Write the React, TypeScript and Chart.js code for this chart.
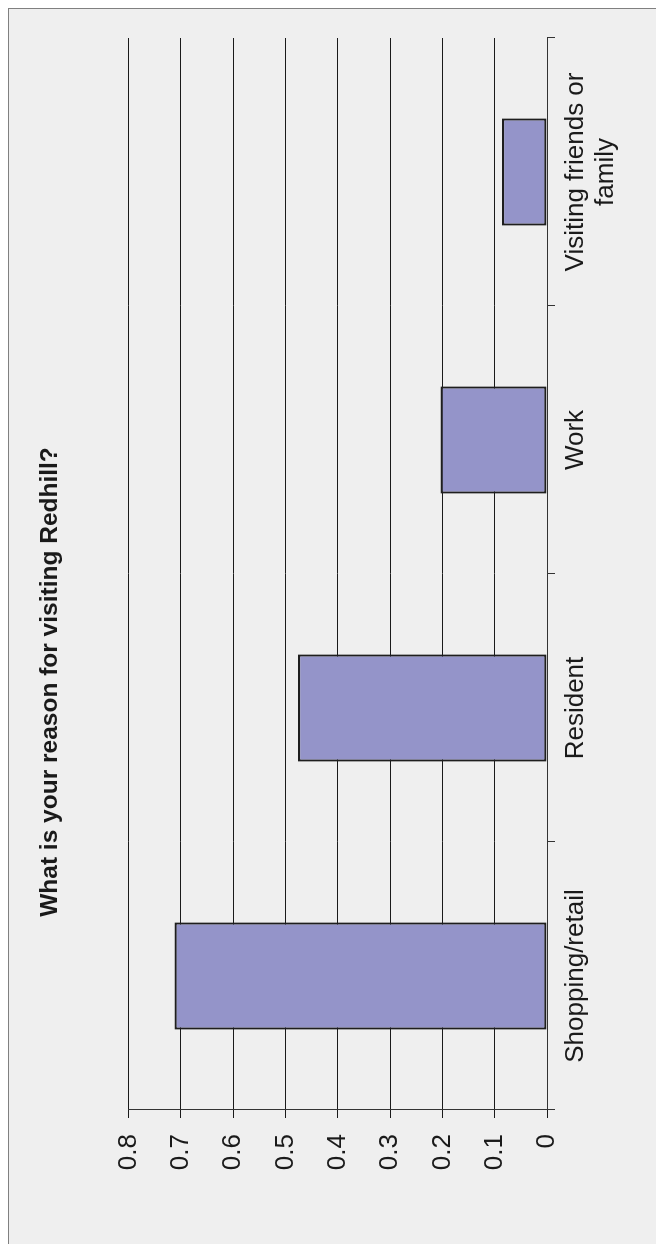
import { useEffect, useRef } from "react";
import { Chart, registerables } from "chart.js";

Chart.register(...registerables);

const titleText = "What is your reason for visiting Redhill?";
const categories: (string | string[])[] = [
  "Shopping/retail",
  "Resident",
  "Work",
  ["Visiting friends or", "family"],
];
const values = [0.712, 0.476, 0.2035, 0.086];
const valueTickLabels = ["0", "0.1", "0.2", "0.3", "0.4", "0.5", "0.6", "0.7", "0.8"];

const FONT = "'Liberation Sans', Arial, Helvetica, sans-serif";
const CANVAS_W = 1364;
const CANVAS_H = 656;

export default function App() {
  const ref = useRef<HTMLCanvasElement>(null);

  useEffect(() => {
    if (!ref.current) return;
    const chart = new Chart(ref.current, {
      type: "bar",
      data: {
        labels: categories,
        datasets: [
          {
            data: values,
            backgroundColor: "#9494c9",
            borderColor: "#1e1e1e",
            borderWidth: 2.2,
            borderSkipped: false,
            categoryPercentage: 1,
            barPercentage: 0.4,
          },
        ],
      },
      options: {
        animation: false,
        responsive: false,
        maintainAspectRatio: false,
        layout: { padding: { left: 38, right: 38, top: 0, bottom: 0 } },
        plugins: {
          legend: { display: false },
          tooltip: { enabled: false },
          title: {
            display: true,
            text: titleText,
            color: "#1a1a1a",
            font: { family: FONT, size: 24.5, weight: "bold" },
            padding: { top: 36, bottom: 63 },
          },
        },
        scales: {
          x: {
            type: "category",
            offset: true,
            grid: {
              offset: true,
              drawOnChartArea: false,
              drawTicks: true,
              tickLength: 8,
              color: "#333",
              lineWidth: 1,
            },
            border: { display: true, color: "#333", width: 1 },
            ticks: {
              color: "#1a1a1a",
              font: { family: FONT, size: 26, lineHeight: 1.15 },
              padding: 6,
              maxRotation: 0,
              minRotation: 0,
              autoSkip: false,
            },
            afterFit: (s: any) => {
              s.height = 109;
            },
          },
          y: {
            min: 0,
            max: 0.8,
            grid: {
              drawTicks: true,
              tickLength: 8,
              color: "#1a1a1a",
              lineWidth: 1,
            },
            border: { display: true, color: "#333", width: 1 },
            ticks: {
              stepSize: 0.1,
              color: "#1a1a1a",
              font: { family: FONT, size: 26 },
              padding: 16,
              callback: (_v: any, i: number) => valueTickLabels[i],
            },
            afterFit: (s: any) => {
              s.width = 216;
            },
          },
        },
      },
    });
    return () => chart.destroy();
  }, []);

  return (
    <div
      style={{
        position: "absolute",
        left: 0,
        top: 0,
        width: 656,
        height: 1244,
        overflow: "hidden",
        background: "#ffffff",
      }}
    >
      <div
        style={{
          position: "absolute",
          left: 8,
          top: 8,
          width: 720,
          height: 1320,
          background: "#efefef",
          border: "1px solid #808080",
          boxSizing: "border-box",
        }}
      />
      <div
        style={{
          position: "absolute",
          left: 0,
          top: 0,
          width: CANVAS_W,
          height: CANVAS_H,
          transformOrigin: "0 0",
          transform: `translate(0px, ${CANVAS_W}px) rotate(-90deg)`,
        }}
      >
        <canvas ref={ref} width={CANVAS_W} height={CANVAS_H} />
      </div>
    </div>
  );
}
